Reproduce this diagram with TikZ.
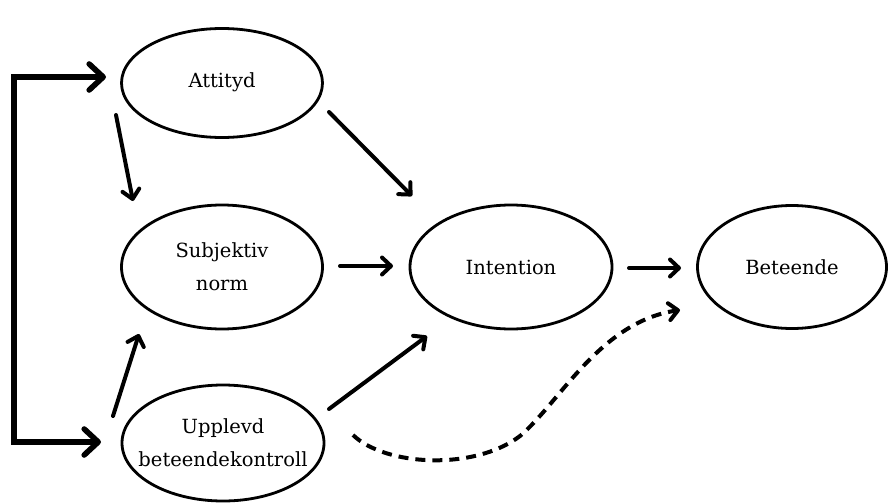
\documentclass[tikz,border=0pt]{standalone}
\usepackage{fontspec}
\setmainfont{DejaVu Serif}
\usetikzlibrary{shapes.geometric,arrows.meta}
\begin{document}
\begin{tikzpicture}[x=1pt,y=-1pt,
  construct/.style={ellipse,draw,line width=2.8pt,inner sep=0pt,
    align=center,font=\fontsize{19.5}{33}\selectfont},
  link/.style={line width=4pt,line cap=round,
    -{Straight Barb[round,length=9pt,width=17pt]}},
  feedback/.style={line width=5.6pt,line join=miter,
    {Straight Barb[round,length=14pt,width=26pt]}-{Straight Barb[round,length=14pt,width=26pt]}},
  weak/.style={link,line cap=butt,dash pattern=on 10pt off 7pt}]
\useasboundingbox (0,0) rectangle (888,503);

% the five constructs
\node[construct,minimum width=201pt,minimum height=109pt] (att) at (222,83) {\raisebox{6pt}{Attityd}};
\node[construct,minimum width=201pt,minimum height=124pt] (sub) at (222,267) {Subjektiv\\norm};
\node[construct,minimum width=202pt,minimum height=116pt] (upp) at (223,443)
  {Upplevd\\\makebox[110pt][c]{beteendekontroll}};
\node[construct,minimum width=202pt,minimum height=124pt] (int) at (511,267) {Intention};
\node[construct,minimum width=189pt,minimum height=123pt] (bet) at (792,267) {Beteende};

% arrow end points beside the ellipses
\coordinate (attIn) at (106,77);
\coordinate (uppIn) at (101,442);
\coordinate (fbTop) at (14,77);
\coordinate (fbBot) at (14,442);
\coordinate (attOut1) at (116,115);
\coordinate (subIn1) at (133,201);
\coordinate (uppOut1) at (113,416);
\coordinate (subIn2) at (139,334);
\coordinate (attOut2) at (329,112);
\coordinate (intIn1) at (412,196);
\coordinate (subOut) at (340,266);
\coordinate (intIn2) at (393,266);
\coordinate (uppOut2) at (329,409);
\coordinate (intIn3) at (427,336);
\coordinate (intOut) at (629,268);
\coordinate (betIn1) at (681,268);
\coordinate (uppOut3) at (353,435);
\coordinate (betIn2) at (680,310);

% feedback loop from the left
\draw[feedback] (attIn) -- (fbTop) -- (fbBot) -- (uppIn);

% direct effects
\draw[link] (attOut1) -- (subIn1);
\draw[link] (uppOut1) -- (subIn2);
\draw[link] (attOut2) -- (intIn1);
\draw[link] (subOut) -- (intIn2);
\draw[link] (uppOut2) -- (intIn3);
\draw[link] (intOut) -- (betIn1);

% direct effect of control on behaviour
\draw[weak] (uppOut3) .. controls (385,466) and (474,471) .. (520,436)
  .. controls (560,402) and (600,322) .. (betIn2);
\end{tikzpicture}
\end{document}
